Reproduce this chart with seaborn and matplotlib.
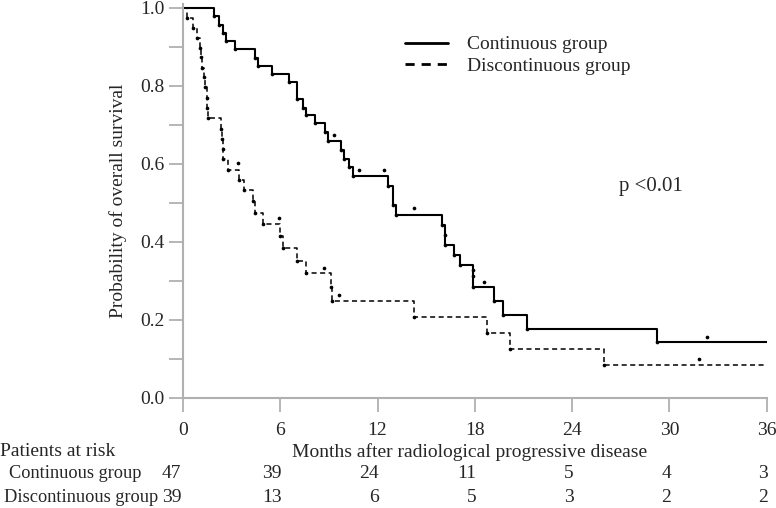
import matplotlib.pyplot as plt
import seaborn as sns
import numpy as np
import pandas as pd
from matplotlib.lines import Line2D
from matplotlib.transforms import blended_transform_factory

# step curves: (months, survival after the drop)
cont_time = [0, 1.93, 2.24, 2.49, 2.66, 3.21, 4.45, 4.61, 5.48, 6.55, 7.02, 7.43,
             7.58, 8.17, 8.77, 8.94, 9.76, 9.94, 10.27, 10.46, 12.64, 12.93, 13.14,
             15.98, 16.14, 16.16, 16.74, 17.11, 17.89, 17.9, 17.91, 19.17, 19.75,
             21.23, 29.26, 36]
cont_surv = [1.0, 0.979, 0.956, 0.936, 0.915, 0.895, 0.872, 0.851, 0.831, 0.810, 0.767, 0.744,
             0.726, 0.704, 0.683, 0.660, 0.636, 0.613, 0.592, 0.568, 0.544, 0.494, 0.469,
             0.444, 0.418, 0.392, 0.366, 0.340, 0.327, 0.312, 0.285, 0.249, 0.213,
             0.178, 0.143, 0.143]

disc_time = [0, 0.23, 0.64, 0.86, 1.05, 1.14, 1.17, 1.30, 1.38, 1.45, 1.51, 1.56,
             2.33, 2.41, 2.44, 2.47, 2.80, 3.46, 3.79, 4.34, 4.45, 4.96, 5.99, 6.16,
             7.02, 7.60, 9.14, 9.22, 14.22, 18.76, 20.15, 25.96, 36]
disc_surv = [1.0, 0.974, 0.949, 0.924, 0.897, 0.873, 0.847, 0.822, 0.796, 0.770, 0.744, 0.718,
             0.690, 0.664, 0.638, 0.612, 0.585, 0.559, 0.532, 0.504, 0.474, 0.446, 0.415, 0.384,
             0.351, 0.320, 0.284, 0.249, 0.208, 0.166, 0.125, 0.085, 0.085]

# censor marks (floating dots)
cont_cens_time = [9.31, 10.83, 12.42, 14.22, 18.55, 32.3]
cont_cens_surv = [0.674, 0.585, 0.584, 0.486, 0.298, 0.157]
disc_cens_time = [3.42, 5.95, 8.67, 9.65, 31.83]
disc_cens_surv = [0.602, 0.461, 0.334, 0.264, 0.099]

risk_times = [0, 6, 12, 18, 24, 30, 36]
risk_cont = [47, 39, 24, 11, 5, 4, 3]
risk_disc = [39, 13, 6, 5, 3, 2, 2]

sns.set_style("white")
plt.rcParams['font.family'] = ['Liberation Serif', 'DejaVu Serif']
fs = 14

fig = plt.figure(figsize=(7.76, 5.08), dpi=100)
ax = fig.add_axes([183 / 776, 1 - 398 / 508, (766.6 - 183) / 776, (398 - 4) / 508])

sns.lineplot(x=cont_time, y=cont_surv, drawstyle="steps-post", color="black",
             lw=1.5, estimator=None, sort=False, ax=ax)
sns.lineplot(x=disc_time, y=disc_surv, drawstyle="steps-post", color="black",
             lw=1.1, linestyle=(0, (3.3, 2.3)), estimator=None, sort=False, ax=ax)

# dots at each event and at censor points
dots = pd.DataFrame({
    "t": cont_time[1:-1] + disc_time[1:-1] + cont_cens_time + disc_cens_time,
    "s": cont_surv[1:-1] + disc_surv[1:-1] + cont_cens_surv + disc_cens_surv,
})
sns.scatterplot(data=dots, x="t", y="s", color="black", s=7, linewidth=0, ax=ax, zorder=3)

ax.set_xlim(0, 36)
ax.set_ylim(0, 1.01)
ax.set_xticks(risk_times)
ax.set_yticks(np.arange(0, 1.01, 0.1))
ax.set_yticklabels([f"{v:.1f}" if i % 2 == 0 else "" for i, v in enumerate(np.arange(0, 1.01, 0.1))])
ax.set_xlabel("")
ax.set_ylabel("Probability of overall survival", fontsize=fs, labelpad=10)
ax.tick_params(axis="both", direction="out", length=10, width=1.3, color="#b0b0b0",
               labelsize=fs, pad=3, bottom=True, left=True)
ax.tick_params(axis="x", pad=7)
for side in ["top", "right"]:
    ax.spines[side].set_visible(False)
for side in ["left", "bottom"]:
    ax.spines[side].set_color("#b0b0b0")
    ax.spines[side].set_linewidth(1.5)

handles = [Line2D([], [], color="black", lw=2.0),
           Line2D([], [], color="black", lw=2.0, linestyle=(0, (3.3, 2.5)))]
ax.legend(handles, ["Continuous group", "Discontinuous group"], loc="upper left",
          bbox_to_anchor=((397 - 183) / 583.6, 1 - 24 / 394), frameon=False,
          fontsize=fs, handlelength=2.2, handletextpad=1.0, labelspacing=0.22,
          borderaxespad=0)

ax.text(651, 508 - 186, "p <0.01", transform=None, fontsize=15, ha="center", va="center")

# at-risk table
fig.text(0, 1 - 452 / 508, "Patients at risk", fontsize=fs, ha="left", va="center")
fig.text(470 / 776, 1 - 452 / 508, "Months after radiological progressive disease",
         fontsize=fs, ha="center", va="center")
fig.text(9 / 776, 1 - 474 / 508, "Continuous group", fontsize=13.2, ha="left", va="center")
fig.text(4 / 776, 1 - 497 / 508, "Discontinuous group", fontsize=13.2, ha="left", va="center")
trans = blended_transform_factory(ax.transData, fig.transFigure)
for t, a, b in zip(risk_times, risk_cont, risk_disc):
    x = t - 0.1 if t == 0 else t + 0.1
    ax.text(x, 1 - 474 / 508, str(a), transform=trans, fontsize=fs, ha="right", va="center")
    ax.text(x, 1 - 497 / 508, str(b), transform=trans, fontsize=fs, ha="right", va="center")

fig.savefig("out.png", dpi=100)
